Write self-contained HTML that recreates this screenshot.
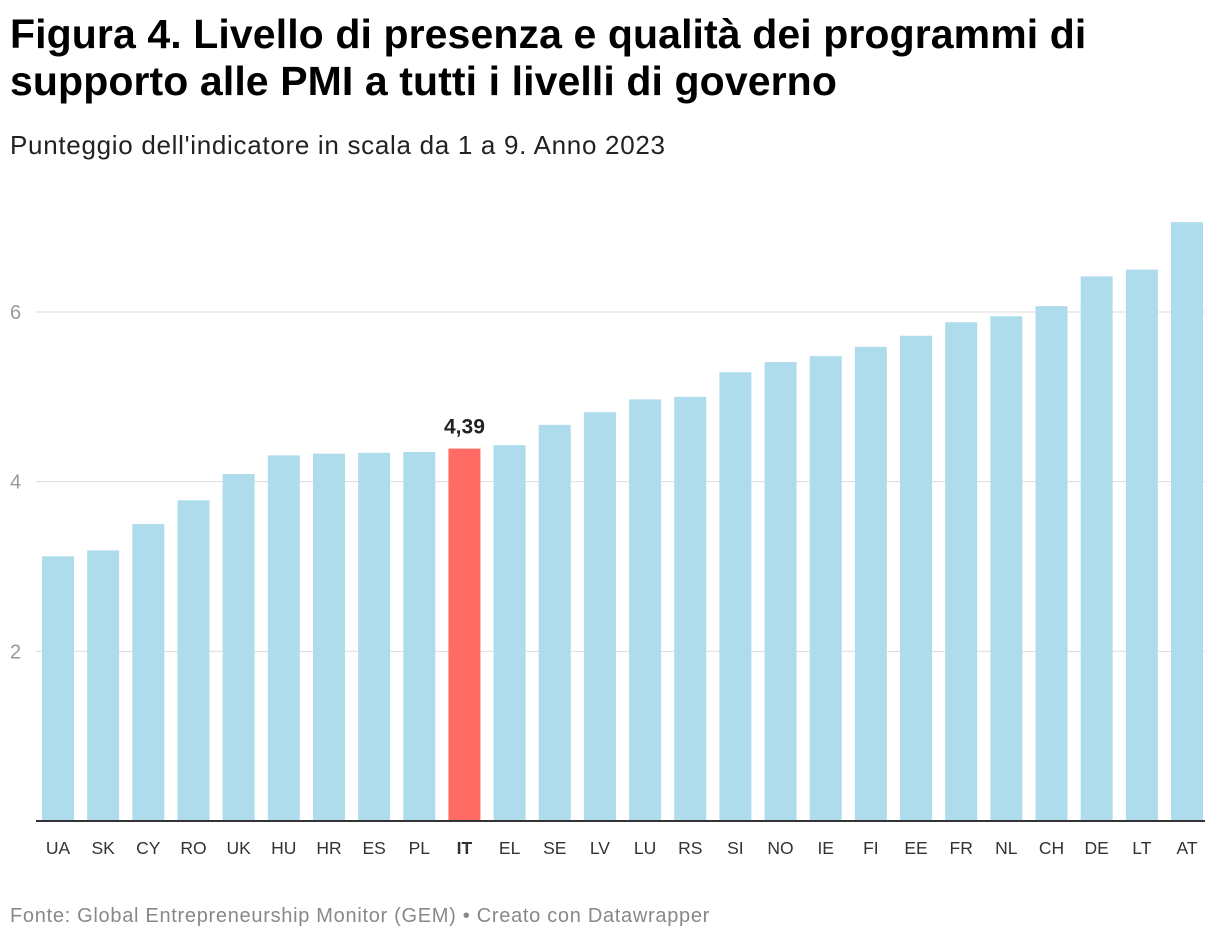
<!DOCTYPE html>
<html><head><meta charset="utf-8"><style>
body{margin:0;background:#fff;font-family:"Liberation Sans",sans-serif;}
#wrap{position:relative;width:1220px;height:942px;overflow:hidden;}
h1{position:absolute;left:10px;top:11px;margin:0;font-size:41px;line-height:47px;font-weight:bold;color:#000;letter-spacing:0.1px;}
.sub{position:absolute;left:10px;top:130px;font-size:26px;color:#222;letter-spacing:0.7px;}
.foot{position:absolute;left:10px;top:905px;font-size:20px;color:#888;letter-spacing:0.7px;}
</style></head><body>
<div id="wrap">
<h1>Figura 4. Livello di presenza e qualità dei programmi di<br>supporto alle PMI a tutti i livelli di governo</h1>
<div class="sub">Punteggio dell'indicatore in scala da 1 a 9. Anno 2023</div>
<svg id="chart" width="1220" height="942" style="position:absolute;left:0;top:0"></svg>
<div class="foot">Fonte: Global Entrepreneurship Monitor (GEM) • Creato con Datawrapper</div>
</div>
<script>
const categories=["UA","SK","CY","RO","UK","HU","HR","ES","PL","IT","EL","SE","LV","LU","RS","SI","NO","IE","FI","EE","FR","NL","CH","DE","LT","AT"];
const values=[3.12,3.19,3.50,3.78,4.09,4.31,4.33,4.34,4.35,4.39,4.43,4.67,4.82,4.97,5.00,5.29,5.41,5.48,5.59,5.72,5.88,5.95,6.07,6.42,6.50,7.06];
const yTicks=[2,4,6];
const highlight="IT";
const svg=document.getElementById('chart');
const NS="http://www.w3.org/2000/svg";
const y0=821,pxPerUnit=84.83;
const y=v=>y0-v*pxPerUnit;
const x0=58,step=45.16,bw=32;
const x=i=>x0+i*step;
function mk(t,a){const e=document.createElementNS(NS,t);for(const k in a)e.setAttribute(k,a[k]);svg.appendChild(e);return e;}
yTicks.forEach(t=>{
 const g=mk('line',{x1:36,x2:1205,y1:y(t),y2:y(t),stroke:'#dddddd','stroke-width':1});
 
 
 const l=mk('text',{x:10,y:y(t)+7,'font-size':20,fill:'#999','font-family':'Liberation Sans,sans-serif'});
 l.textContent=t;
 
 
});
categories.forEach((c,i)=>{
 const v=values[i];const hi=c===highlight;
 const r=mk('rect',{x:x(i)-bw/2,y:y(v),width:bw,height:y0-y(v),fill:hi?'#ff6b63':'#aedcec'});
 
 
 const t=mk('text',{x:x(i),y:854,'text-anchor':'middle','font-size':17.5,fill:'#333','font-weight':hi?'bold':'normal','font-family':'Liberation Sans,sans-serif'});
 t.textContent=c;
 
 
 if(hi){
  const vl=mk('text',{x:x(i),y:y(v)-15,'text-anchor':'middle','font-size':21,'font-weight':'bold',fill:'#222','font-family':'Liberation Sans,sans-serif'});
  vl.textContent=v.toFixed(2).replace('.',',');
  
  
 }
});
const ax=mk('line',{x1:36,x2:1205,y1:y0,y2:y0,stroke:'#333','stroke-width':2});


</script>
</body></html>
